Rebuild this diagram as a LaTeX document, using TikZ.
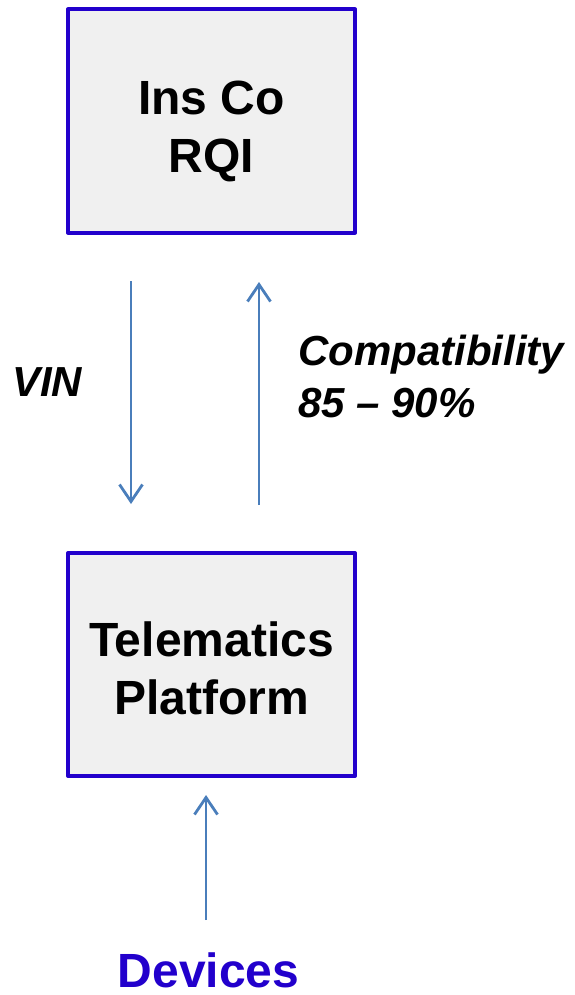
\documentclass[tikz,border=0pt]{standalone}
\usepackage{fontspec}
\setmainfont{Liberation Sans}
\usetikzlibrary{arrows.meta}
\definecolor{boxline}{HTML}{2200CC}
\definecolor{boxfill}{HTML}{F0F0F0}
\definecolor{flow}{HTML}{4A7EBB}
\tikzset{
  block/.style={draw=boxline, fill=boxfill, line width=4pt, line join=round,
    minimum width=287pt, minimum height=223pt, inner sep=0pt},
  blocktext/.style={align=center, inner sep=0pt, font=\fontsize{48}{58}\selectfont\bfseries},
  flowline/.style={draw=flow, line width=2.8pt, -{Straight Barb[length=17pt, width=23pt]}},
  lbl/.style={font=\fontsize{42}{52}\selectfont\bfseries\itshape, align=left, inner sep=0pt}
}
\begin{document}
\begin{tikzpicture}[x=1pt, y=-1pt]
  \useasboundingbox (0,0) rectangle (575,995);

  % boxes
  \node[block] (insco) at (211.5,121) {};
  \node[blocktext] (inscot) at ([yshift=-10pt]insco.center) {Ins Co\\ RQI};
  \node[block] (tele) at (211.5,664.5) {};
  \node[blocktext] (telet) at ([yshift=-4pt]tele.center) {Telematics\\ Platform};

  % arrow ends
  \coordinate (vinA) at (131,281);
  \coordinate (vinB) at (131,504);
  \coordinate (cmpA) at (259,505);
  \coordinate (cmpB) at (259,282);
  \coordinate (devA) at (206,920);
  \coordinate (devB) at (206,795);

  \draw[flowline] (vinA) -- (vinB);
  \draw[flowline] (cmpA) -- (cmpB);
  \draw[flowline] (devA) -- (devB);

  % labels
  \node[lbl, anchor=west] (vin) at (12,382) {VIN};
  \node[lbl, anchor=west] (cmp) at (298,376) {Compatibility\\ 85 -- 90\%};
  \node[font=\fontsize{48}{58}\selectfont\bfseries, text=boxline, inner sep=0pt, anchor=base] (dev) at (208.5,987) {Devices};
\end{tikzpicture}
\end{document}
